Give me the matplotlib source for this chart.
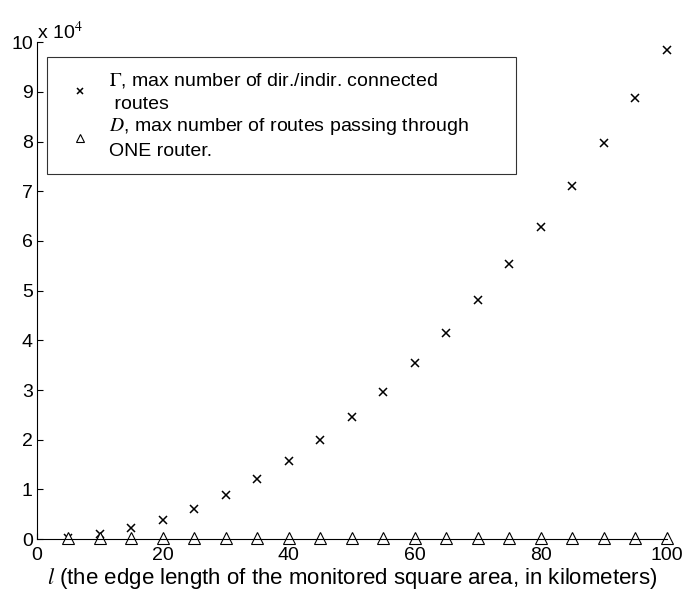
import matplotlib
matplotlib.use('Agg')
import matplotlib.pyplot as plt

plt.rcParams['font.family'] = 'Liberation Sans'
plt.rcParams['mathtext.fontset'] = 'stix'

# edge length l (km)
edge_km = [5, 10, 15, 20, 25, 30, 35, 40, 45, 50,
           55, 60, 65, 70, 75, 80, 85, 90, 95, 100]
# Gamma, in units of 1e4
gamma_e4 = [0.03, 0.10, 0.22, 0.39, 0.61, 0.88, 1.20, 1.57, 1.99, 2.46,
            2.97, 3.54, 4.15, 4.82, 5.53, 6.29, 7.11, 7.97, 8.88, 9.84]
# D, in units of 1e4 (all close to zero)
d_e4 = [0.03, 0.03, 0.03, 0.03, 0.03, 0.03, 0.03, 0.03, 0.03, 0.03,
        0.03, 0.03, 0.03, 0.03, 0.03, 0.03, 0.03, 0.03, 0.03, 0.03]

x_ticks = [0, 20, 40, 60, 80, 100]
y_ticks = list(range(0, 11))

# legend labels (non-breaking spaces keep the wide right margin of the box)
pad = '\u00a0' * 7
label_gamma = '$\\Gamma$, max number of dir./indir. connected' + pad + '\n routes'
label_d = '$D$, max number of routes passing through' + pad + '\nONE router.'

fig = plt.figure(figsize=(6.84, 5.95), dpi=100)
ax = fig.add_axes([0.054, 0.094, 0.921, 0.835])

ax.plot(edge_km, gamma_e4, linestyle='none', marker='x', markersize=5.5,
        markeredgewidth=1.1, color='black', clip_on=False, label=label_gamma)
ax.plot(edge_km, d_e4, linestyle='none', marker='^', markersize=8,
        markerfacecolor='white', markeredgewidth=0.8, color='black',
        clip_on=False, label=label_d)

ax.set_xlim(0, 100)
ax.set_ylim(0, 10)
ax.set_xticks(x_ticks)
ax.set_yticks(y_ticks)
ax.tick_params(direction='in', length=4, width=0.8, labelsize=14)
ax.tick_params(axis='x', pad=6)
ax.tick_params(axis='y', pad=3)
ax.spines['top'].set_visible(False)
ax.spines['right'].set_visible(False)

ax.text(0.0, 0.998, 'x 10$^4$', transform=ax.transAxes, fontsize=14,
        ha='left', va='bottom')
ax.set_xlabel('$l$ (the edge length of the monitored square area, in kilometers)',
              fontsize=16, labelpad=1)

leg = ax.legend(loc='upper left', bbox_to_anchor=(0.016, 0.970), fontsize=14,
                frameon=True, fancybox=False, edgecolor='black',
                borderaxespad=0, borderpad=0.7, handletextpad=0.5,
                labelspacing=0.2, markerscale=0.7)
leg.get_frame().set_linewidth(0.8)
for t in leg.get_texts():
    t.set_linespacing(1.45)

plt.savefig('out.png', dpi=100)
